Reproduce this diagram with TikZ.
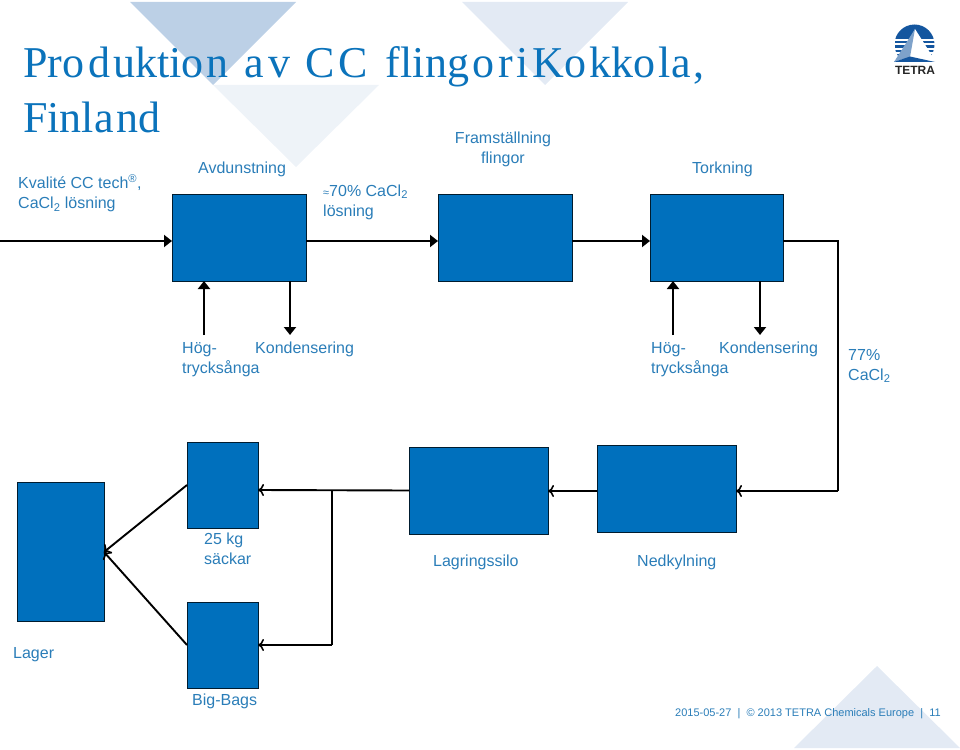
\documentclass[tikz,border=0pt]{standalone}
\usepackage{fontspec}
\setmainfont{Liberation Sans}
\newfontfamily\titlefont{Liberation Serif}
\usetikzlibrary{arrows.meta}
\definecolor{tblue}{HTML}{0070BD}
\definecolor{ttext}{HTML}{2A7DB8}
\definecolor{ttitle}{HTML}{0B73BB}
\definecolor{triA}{HTML}{BCD0E6}
\definecolor{triB}{HTML}{EEF3F8}
\definecolor{triC}{HTML}{E3EAF4}
\definecolor{logoblue}{HTML}{14569F}
\tikzset{
  x=1pt,y=-1pt,
  procbox/.style={draw=black!75!tblue,line width=0.8pt,fill=tblue,inner sep=0pt,minimum width=0pt},
  lbl/.style={text=ttext,font=\fontsize{16}{20}\selectfont,align=left,inner sep=0pt},
  flowsolid/.style={line width=1.9pt,-{Triangle[length=8pt,width=12pt]}},
  flowopen/.style={line width=1.9pt,-{To[length=6pt,width=12pt,line width=1.6pt]}},
  plainflow/.style={line width=1.9pt},
  titletext/.style={text=ttitle,font=\titlefont\fontsize{44}{52}\selectfont,inner sep=0pt,anchor=base west},
}
\newcommand{\pbox}[5]{\node[procbox,minimum width=#4pt-#2pt,minimum height=#5pt-#3pt,anchor=north west] (#1) at (#2,#3) {};}
\begin{document}
\begin{tikzpicture}
\useasboundingbox (0,0) rectangle (960,749);
\fill[triA] (130,2) -- (296,2) -- (213,85) -- cycle;
\fill[triB] (213,85) -- (379,85) -- (296,167) -- cycle;
\fill[triC] (462,2) -- (628,2) -- (545,85) -- cycle;
\fill[triC] (794,748) -- (960,748) -- (877,666) -- cycle;

\node[titletext] (t1) at (23,78) {Pro\kern4pt d\kern3pt uktio\kern3pt n\kern16pt a\kern4pt v\kern15pt C\kern4pt C\kern18pt fling\kern3pt o\kern4pt r\kern4pt i\kern4pt Ko\kern3pt kko\kern3pt la\kern3pt ,};
\node[titletext] (t2) at (23,132) {Finla\kern3pt nd};

\pbox{A}{172}{194}{306}{281}
\pbox{B}{438}{194}{572}{281}
\pbox{C}{650}{194}{783}{281}
\pbox{D}{597}{445}{736}{532}
\pbox{E}{409}{447}{548}{534}
\pbox{F}{187}{442}{258}{528}
\pbox{G}{187}{602}{258}{688}
\pbox{H}{17}{482}{104}{621}

\node[lbl,anchor=north west] (l1) at (18,174.5) {Kvalité CC tech\textsuperscript{®},\\[0pt]CaCl\textsubscript{2} lösning};
\node[lbl,anchor=north west] (l2) at (198,162) {Avdunstning};
\node[lbl,anchor=north west] (l3) at (323,184.5) {\raisebox{0pt}{\fontsize{11}{11}\selectfont≈}70\% CaCl\textsubscript{2}\\lösning};
\node[lbl,anchor=north,align=center] (l4) at (503,132) {Framställning\\flingor};
\node[lbl,anchor=north west] (l5) at (692,162) {Torkning};
\node[lbl,anchor=north west] (l6) at (182,342) {Hög-\\trycksånga};
\node[lbl,anchor=north west] (l7) at (255,342) {Kondensering};
\node[lbl,anchor=north west] (l8) at (651,342) {Hög-\\trycksånga};
\node[lbl,anchor=north west] (l9) at (719,342) {Kondensering};
\node[lbl,anchor=north west] (l10) at (848,349) {77\%\\CaCl\textsubscript{2}};
\node[lbl,anchor=north west] (l11) at (204,533) {25 kg\\säckar};
\node[lbl,anchor=north west] (l12) at (433,555) {Lagringssilo};
\node[lbl,anchor=north west] (l13) at (637,555) {Nedkylning};
\node[lbl,anchor=north west] (l14) at (13,647) {Lager};
\node[lbl,anchor=north west] (l15) at (192,694) {Big-Bags};
\node[lbl,anchor=west,font=\fontsize{11}{13}\selectfont] (foot) at (675,713.5) {2015-05-27 \ | \ © 2013 TETRA Chemicals Europe \ | \ 11};

\coordinate (in) at (0,241);
\coordinate (ca) at (172,241);
\coordinate (ab) at (306,241);
\coordinate (ba) at (438,241);
\coordinate (bc) at (572,241);
\coordinate (cb) at (650,241);
\coordinate (cd) at (783,241);
\coordinate (c1) at (838,241);
\coordinate (c2) at (838,491);
\coordinate (dr) at (736,491);
\coordinate (dl) at (597,491);
\coordinate (er) at (548,491);
\coordinate (el) at (409,490.5);
\coordinate (fr) at (258,490);
\coordinate (j) at (332,490);
\coordinate (j2) at (332,645);
\coordinate (gr) at (258,645);
\coordinate (fl) at (187,485);
\coordinate (gl) at (187,645);
\coordinate (hr) at (104,552);
\draw[flowsolid] (in) -- (ca);
\draw[flowsolid] (ab) -- (ba);
\draw[flowsolid] (bc) -- (cb);
\draw[plainflow] (cd) -- (c1) -- (c2);
\draw[flowopen] (c2) -- (dr);
\draw[flowopen] (dl) -- (er);
\draw[flowopen] (el) -- (fr);
\draw[plainflow] (j) -- (j2);
\draw[flowopen] (j2) -- (gr);
\draw[flowopen] (fl) -- (hr);
\draw[flowopen] (gl) -- (hr);
\coordinate (s1) at (204,335); \coordinate (s1b) at (204,281);
\coordinate (s2) at (290,281); \coordinate (s2b) at (290,335);
\coordinate (s3) at (673,335); \coordinate (s3b) at (673,281);
\coordinate (s4) at (760,281); \coordinate (s4b) at (760,335);
\draw[flowsolid] (s1) -- (s1b);
\draw[flowsolid] (s2) -- (s2b);
\draw[flowsolid] (s3) -- (s3b);
\draw[flowsolid] (s4) -- (s4b);

% logo
\begin{scope}
\clip (895,25) rectangle (935,62);
\fill[logoblue] (914.5,44.5) circle (20);
\foreach \yy in {39,43.5,48,52.5,57}{\fill[white] (890,\yy) rectangle (940,\yy+1.6);}
\end{scope}
\fill[white] (915,29) -- (899,62) -- (936,62) -- cycle;
\fill[logoblue!55!white] (915,29) -- (894,62) -- (910,57) -- cycle;
\fill[logoblue] (894,62) -- (935,62) -- (910,56.5) -- cycle;
\node[inner sep=0pt,font=\bfseries\fontsize{12}{12}\selectfont,text=black!85] (logo) at (915,70.5) {TETRA};
\end{tikzpicture}
\end{document}
